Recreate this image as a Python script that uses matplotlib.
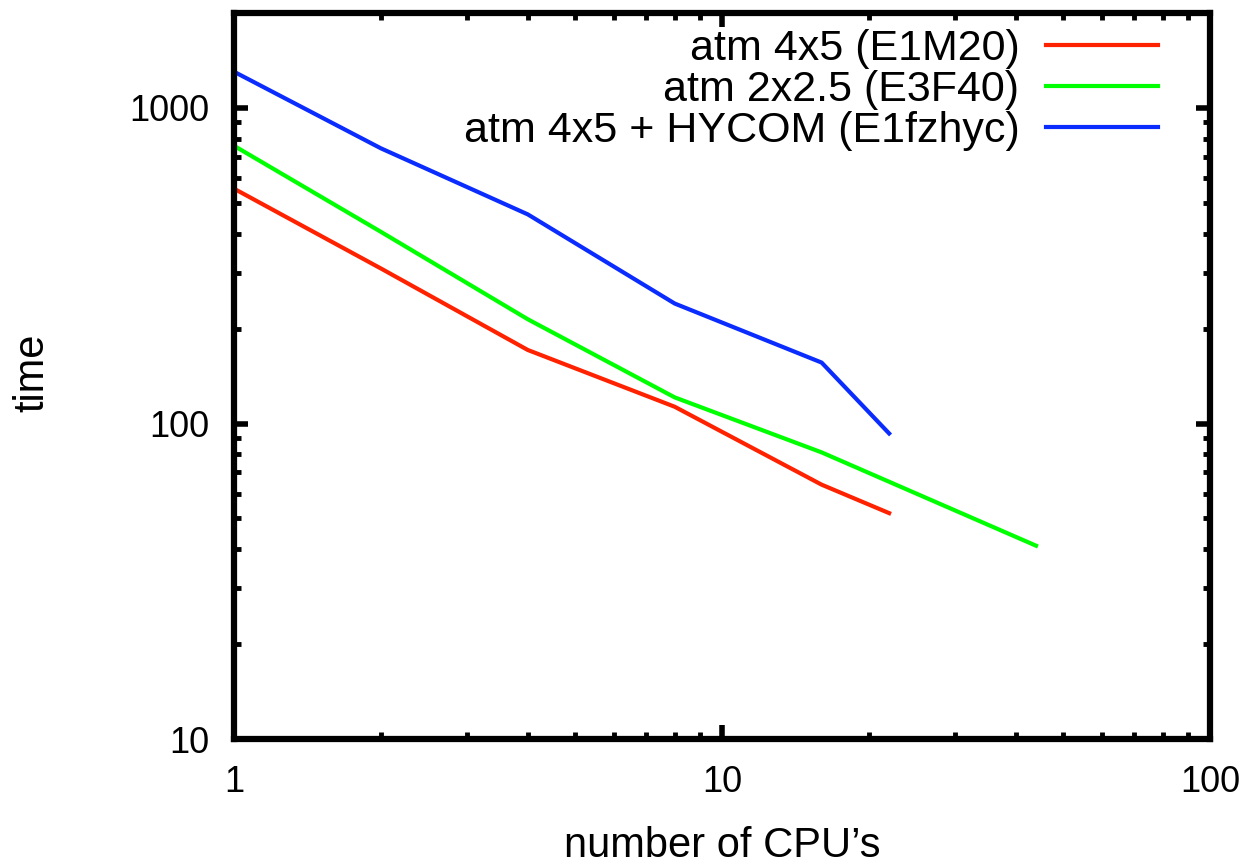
import matplotlib
matplotlib.use("Agg")
import matplotlib.pyplot as plt
from matplotlib.ticker import LogLocator, FuncFormatter, NullFormatter

plt.rcParams['font.family'] = ['Liberation Sans', 'DejaVu Sans']

# data
cpus_short = [1, 2, 4, 8, 16, 22]
cpus_long = [1, 2, 4, 8, 16, 44]
time_e1m20 = [555, 310, 171, 113, 64, 52]
time_e3f40 = [759, 405, 214, 121, 81, 41]
time_e1fzhyc = [1303, 745, 460, 240, 156, 93]

labels = ["atm 4x5 (E1M20)", "atm 2x2.5 (E3F40)", "atm 4x5 + HYCOM (E1fzhyc)"]
colors = ["#ff2200", "#00ff00", "#0a2cff"]

fig = plt.figure(figsize=(12.56, 8.67), dpi=100)
ax = fig.add_axes([0.1863, 0.1476, 0.9634 - 0.1863, 0.985 - 0.1476])

ax.plot(cpus_short, time_e1m20, color=colors[0], lw=3, label=labels[0])
ax.plot(cpus_long, time_e3f40, color=colors[1], lw=3, label=labels[1])
ax.plot(cpus_short, time_e1fzhyc, color=colors[2], lw=3, label=labels[2])

ax.set_xscale('log')
ax.set_yscale('log')
ax.set_xlim(1, 100)
ax.set_ylim(10, 2000)

fmt = FuncFormatter(lambda v, p: f"{v:g}")
for axis in (ax.xaxis, ax.yaxis):
    axis.set_major_locator(LogLocator(base=10, numticks=10))
    axis.set_minor_locator(LogLocator(base=10, subs=range(2, 10), numticks=100))
    axis.set_major_formatter(fmt)
    axis.set_minor_formatter(NullFormatter())

ax.tick_params(which='both', direction='in', top=True, right=True, labelsize=26, colors='black')
ax.tick_params(which='major', length=10, width=4)
ax.tick_params(which='minor', length=5, width=3.5)
ax.tick_params(axis='x', which='major', pad=19)
ax.tick_params(axis='y', which='major', pad=18)

for s in ax.spines.values():
    s.set_linewidth(4.5)
    s.set_color('black')

ax.set_xlabel("number of CPU\u2019s", fontsize=30)
ax.xaxis.set_label_coords(0.5, -0.148)
ax.xaxis.label.set_va('center')
ax.set_ylabel("time", fontsize=30)
ax.yaxis.set_label_coords(-0.207, 0.505)
ax.yaxis.label.set_va('center')

ax.legend(loc='upper right', bbox_to_anchor=(0.9467, 0.978), frameon=False,
          markerfirst=False, fontsize=31, handlelength=2.6, handletextpad=0.62,
          labelspacing=0.02, borderpad=0, borderaxespad=0)

fig.savefig("out.png", dpi=100)
